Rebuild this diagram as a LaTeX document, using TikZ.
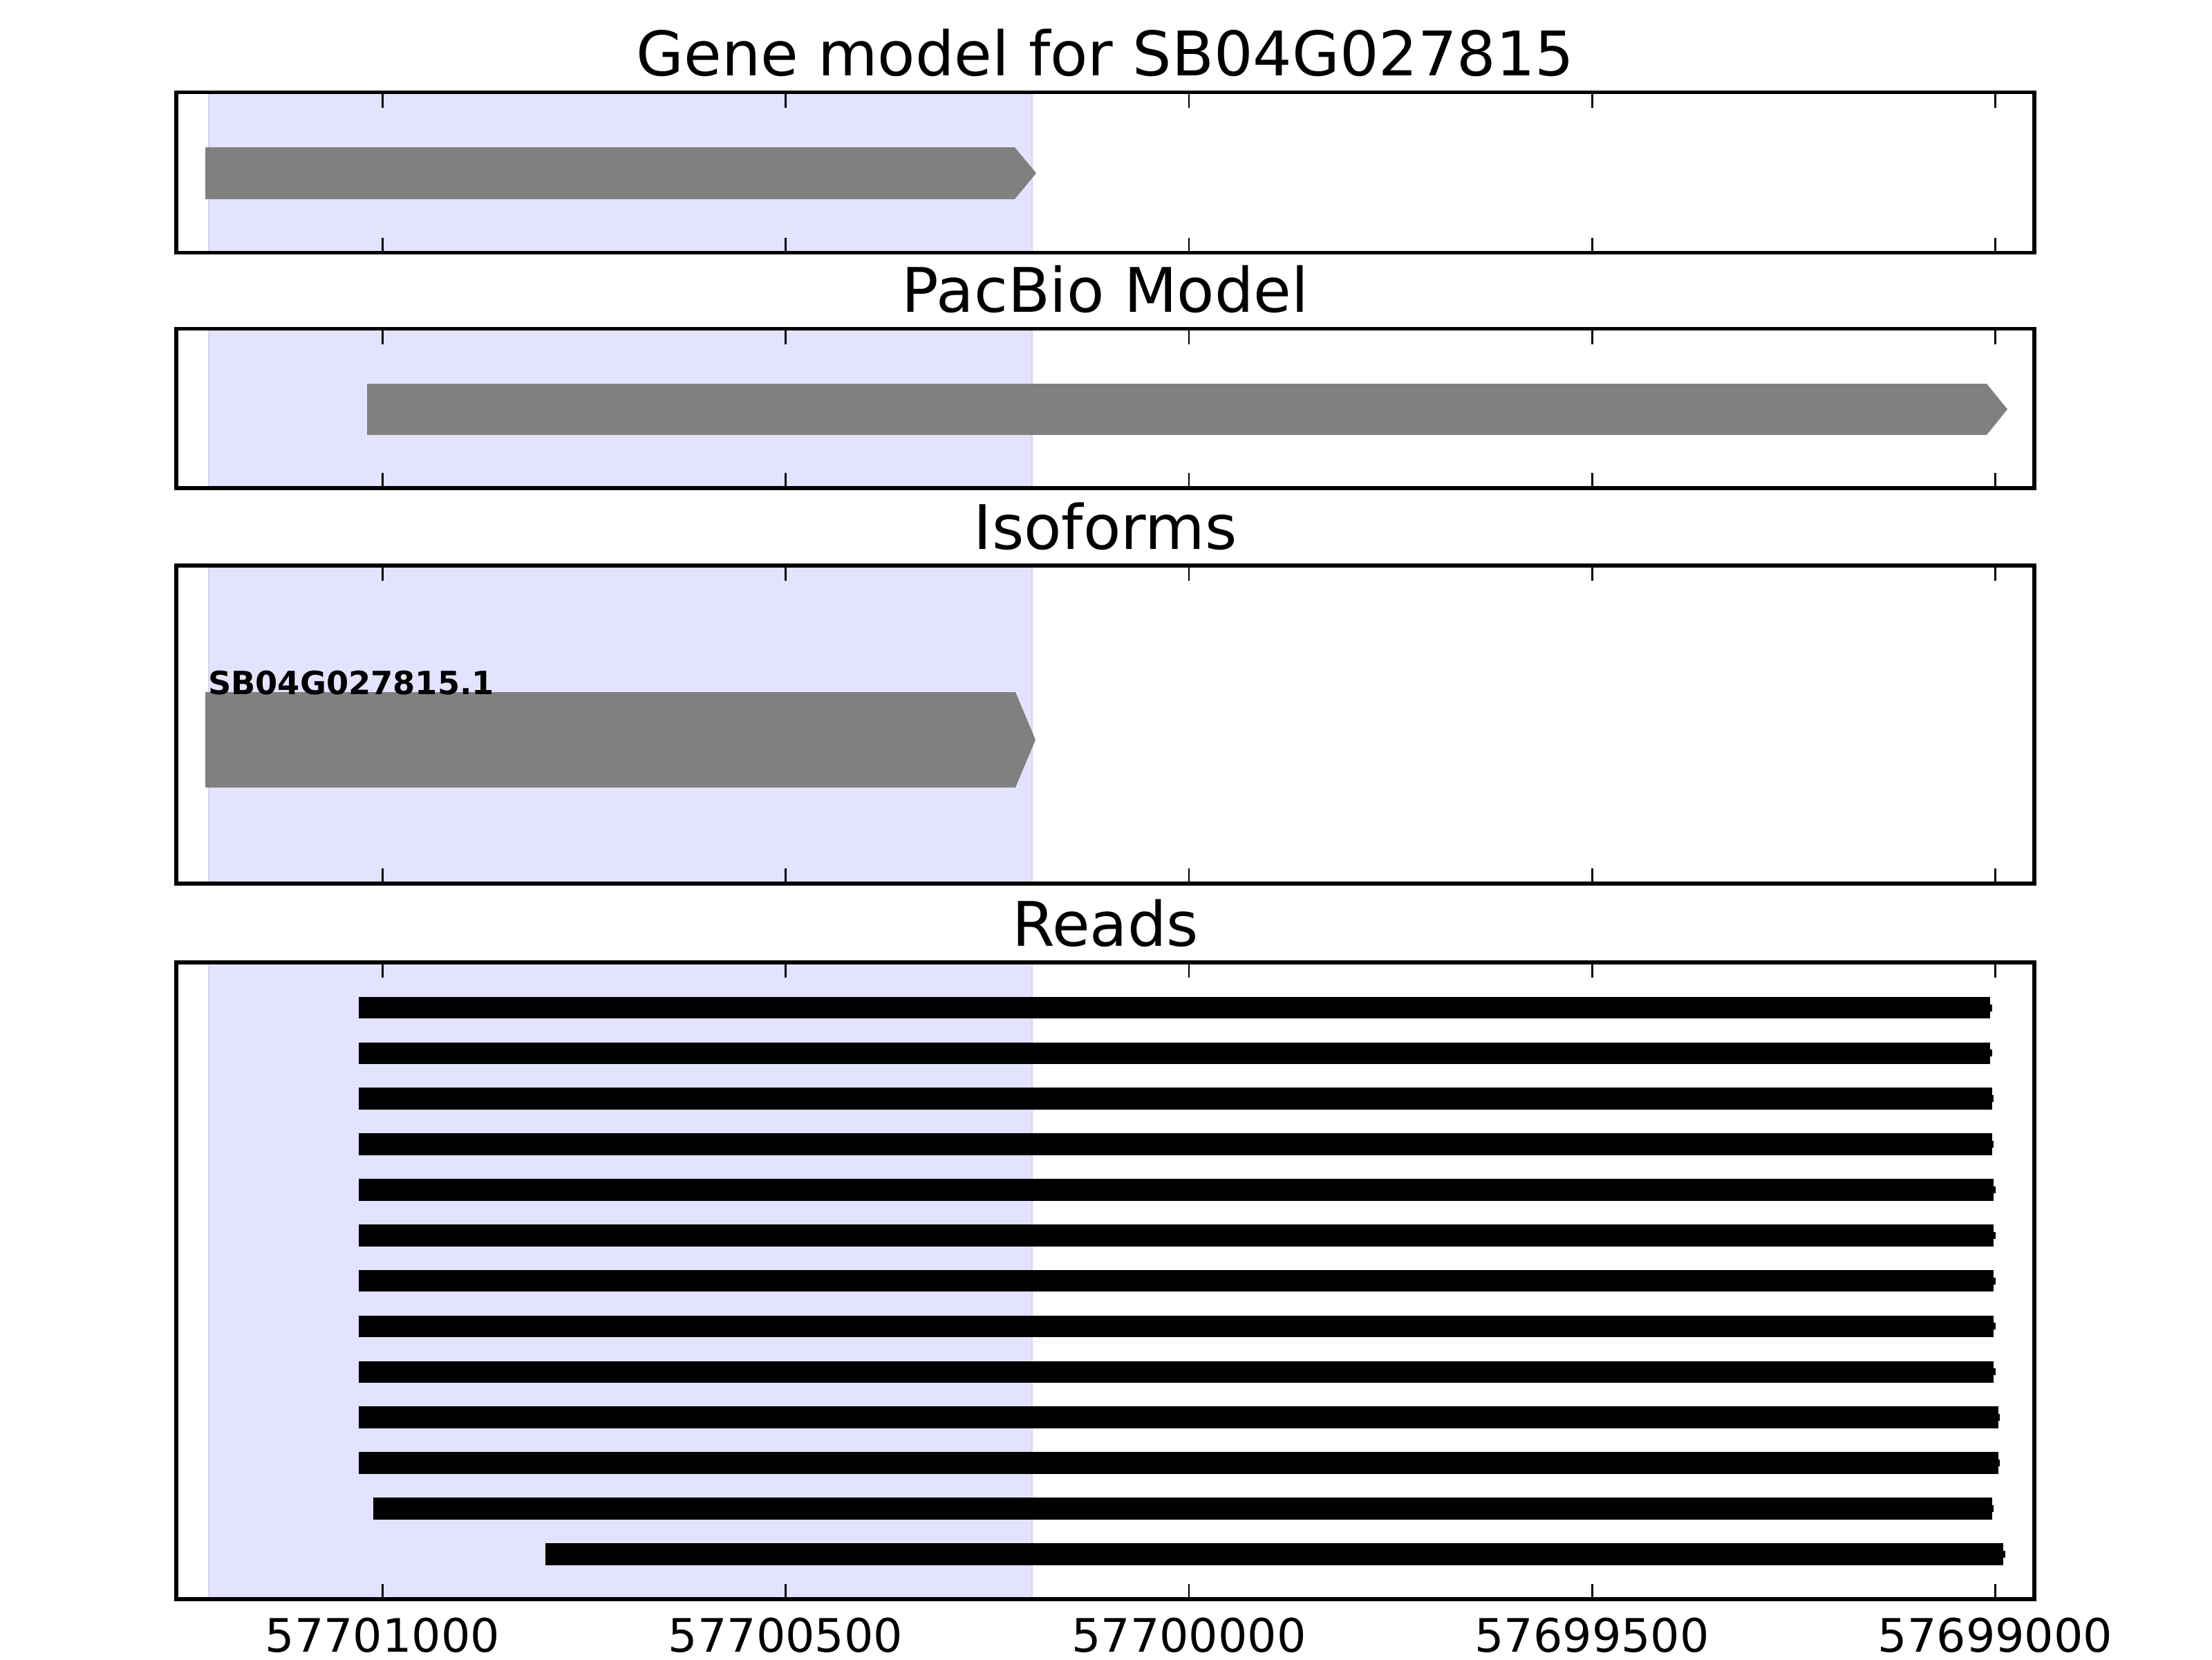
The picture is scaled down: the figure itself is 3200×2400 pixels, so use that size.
\documentclass[tikz,border=0pt]{standalone}
\usepackage{fontspec}
\setmainfont{DejaVu Sans}
\definecolor{spanfill}{RGB}{227,227,255}
\definecolor{spanedge}{RGB}{212,212,240}
\definecolor{genegray}{RGB}{128,128,128}
\begin{document}
\begin{tikzpicture}[x=0.18pt,y=-0.18pt,
  frame/.style={draw=black,line width=1pt},
  tickmark/.style={draw=black,line width=0.5pt},
  genebox/.style={fill=genegray},
  readbar/.style={fill=black},
  ptitle/.style={font=\fontsize{16}{18}\selectfont,anchor=base,inner sep=0pt},
  ticklabel/.style={font=\fontsize{12}{14}\selectfont,anchor=base,inner sep=0pt},
  isolabel/.style={font=\bfseries\fontsize{8.33}{10}\selectfont,anchor=base west,inner sep=0pt}]
\fill[white] (0,0) rectangle (3200,2400);
\useasboundingbox (0,0) rectangle (3200,2400);
% shaded spans
\foreach \t/\b in {133.5/365.5, 475.5/706, 818/1278, 1392/2313}{
  \fill[spanfill] (302,\t) rectangle (1493,\b);
  \draw[spanedge,line width=0.5pt] (302,\t) -- (302,\b) (1493,\t) -- (1493,\b);
}
% gene model
\fill[genebox] (297,213) -- (1468,213) -- (1499,250.5) -- (1468,288) -- (297,288) -- cycle;
% pacbio model
\fill[genebox] (531,555) -- (2874,555) -- (2904,592) -- (2874,629) -- (531,629) -- cycle;
% isoform
\fill[genebox] (297,1001) -- (1469,1001) -- (1498,1070) -- (1469,1139) -- (297,1139) -- cycle;
\node[isolabel] (iso) at (300,1004) {SB04G027815.1};
% reads
\foreach \l/\r [count=\k from 0] in {519/2879.3, 519/2879.3, 519/2881.7, 519/2881.7, 519/2884.3, 519/2884.3, 519/2884.3, 519/2884.3, 519/2884.3, 519/2890.7, 519/2890.7, 540/2881.7, 789/2898.3}{
  \pgfmathsetmacro{\yc}{1457.5+65.85*\k}
  \fill[readbar] (\l,\yc-15.75) rectangle (\r,\yc+15.75);
  \fill[readbar] (\r,\yc-5) rectangle (\r+2.5,\yc+5);
}
% frames and ticks
\foreach \t/\b in {133.5/365.5, 475.5/706, 818/1278, 1392/2313}{
  \foreach \x in {553.3,1136.6,1719.9,2303.2,2886.5}{
    \draw[tickmark] (\x,\t) -- (\x,\t+22);
    \draw[tickmark] (\x,\b) -- (\x,\b-22);
  }
  \draw[frame] (255,\t) rectangle (2943,\b);
}
% titles
\node[ptitle] (t1) at (1599,109.5) {Gene model for SB04G027815};
\node[ptitle] (t2) at (1599,451.5) {PacBio Model};
\node[ptitle] (t3) at (1599,794) {Isoforms};
\node[ptitle] (t4) at (1599,1368) {Reads};
% tick labels
\node[ticklabel] (l1) at (553.3,2389) {57701000};
\node[ticklabel] (l2) at (1136.6,2389) {57700500};
\node[ticklabel] (l3) at (1719.9,2389) {57700000};
\node[ticklabel] (l4) at (2303.2,2389) {57699500};
\node[ticklabel] (l5) at (2886.5,2389) {57699000};
\end{tikzpicture}
\end{document}
